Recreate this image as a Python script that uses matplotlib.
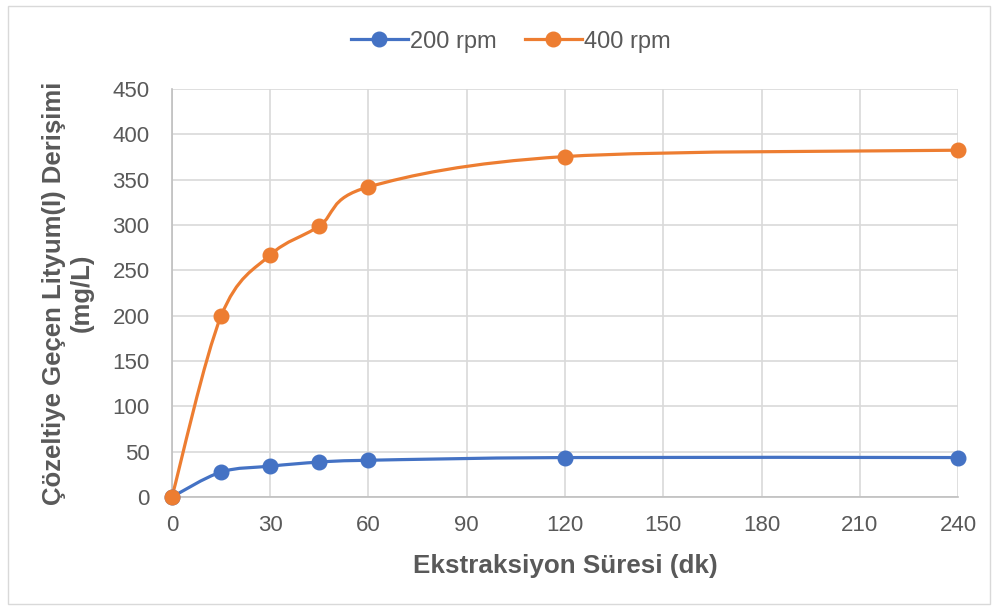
import numpy as np
import matplotlib.pyplot as plt
from matplotlib.path import Path
from matplotlib.patches import PathPatch, Rectangle
from matplotlib.lines import Line2D

plt.rcParams['font.family'] = ['Liberation Sans', 'DejaVu Sans']

# data
times = [0, 15, 30, 45, 60, 120, 240]
rpm200 = [0, 27.5, 34, 38.5, 40.5, 43.5, 43.5]
rpm400 = [0, 199.5, 267, 299, 342, 375.5, 382.5]
labels = ['200 rpm', '400 rpm']
colors = ['#4472C4', '#ED7D31']
xticks = [0, 30, 60, 90, 120, 150, 180, 210, 240]

grey = '#595959'


def smooth_path(x, y):
    # bezier segments like Excel's smoothed line
    pts = np.column_stack([x, y]).astype(float)
    n = len(pts)
    verts = [pts[0]]
    codes = [Path.MOVETO]
    for i in range(n - 1):
        p0 = pts[max(i - 1, 0)]
        p1 = pts[i]
        p2 = pts[i + 1]
        p3 = pts[min(i + 2, n - 1)]
        c1 = p1 + (p2 - p0) / 6
        c2 = p2 - (p3 - p1) / 6
        verts += [c1, c2, p2]
        codes += [Path.CURVE4] * 3
    return Path(verts, codes)


fig = plt.figure(figsize=(9.98, 6.11), dpi=100)
fig.patches.append(Rectangle((0.008, 0.012), 0.984, 0.978, transform=fig.transFigure,
                             fill=False, edgecolor='#d9d9d9', lw=1))
ax = fig.add_axes([0.1723, 0.1866, 0.7877, 0.6677])

handles = []
for ys, lab, c in zip([rpm200, rpm400], labels, colors):
    ax.add_patch(PathPatch(smooth_path(times, ys), fill=False, edgecolor=c,
                           lw=2.3, capstyle='round', zorder=3))
    ax.plot(times, ys, 'o', color=c, markersize=10.5, zorder=4, clip_on=False)
    handles.append(Line2D([], [], color=c, lw=2.3, marker='o', markersize=10.5))

ax.set_xlim(0, 240)
ax.set_ylim(0, 450)
ax.set_xticks(xticks)
ax.set_yticks(range(0, 451, 50))
ax.grid(True, color='#d9d9d9', lw=1.2)
ax.set_axisbelow(True)
for s in ['top', 'right']:
    ax.spines[s].set_visible(False)
for s in ['left', 'bottom']:
    ax.spines[s].set_color('#bfbfbf')
    ax.spines[s].set_linewidth(1.2)
ax.tick_params(length=0, labelsize=16, colors=grey)
ax.tick_params(axis='x', pad=13)
ax.tick_params(axis='y', pad=16)

ax.set_xlabel('Ekstraksiyon Süresi (dk)', fontsize=18.7, fontweight='bold',
              color=grey)
ax.set_ylabel('Çözeltiye Geçen Lityum(I) Derişimi\n(mg/L)', fontsize=18.5,
              fontweight='bold', color=grey, linespacing=1.15)
ax.xaxis.set_label_coords(0.5, -0.14)
ax.yaxis.set_label_coords(-0.1, 0.5)

fig.legend(handles, labels, loc='center', bbox_to_anchor=(0.512, 0.932), ncol=2,
           frameon=False, fontsize=17, handlelength=2.4, columnspacing=1.2,
           handletextpad=0.1, labelcolor=grey)

fig.savefig('out.png', dpi=100)
